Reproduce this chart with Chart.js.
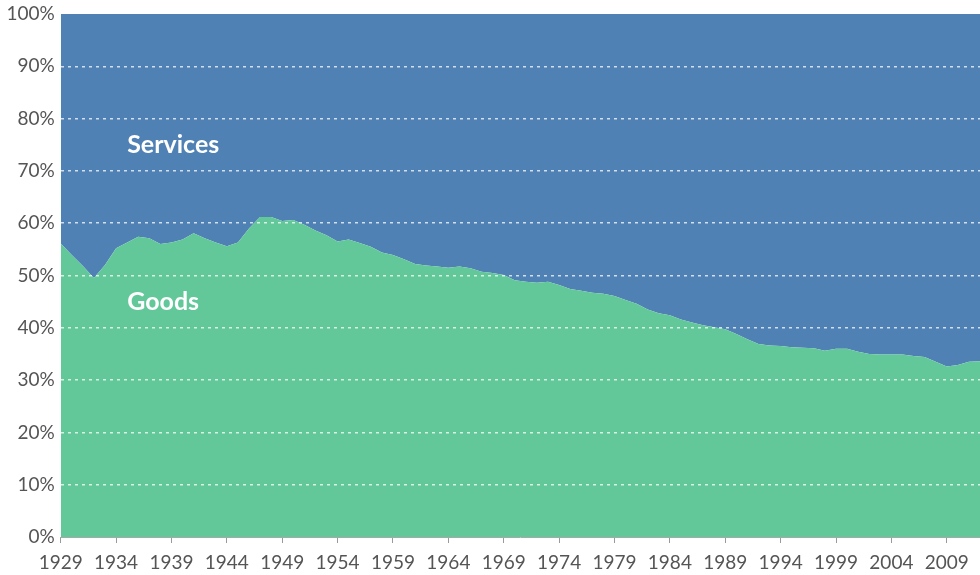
<!DOCTYPE html>
<html>
<head>
<meta charset="utf-8">
<script src="https://cdn.jsdelivr.net/npm/chart.js@4"></script>
<style>
html,body{margin:0;padding:0;background:#fff;}
#wrap{width:980px;height:575px;position:relative;}
</style>
</head>
<body>
<div id="wrap"><canvas id="c" width="980" height="575"></canvas></div>
<script>
const years = ['1929','1930','1931','1932','1933','1934','1935','1936','1937','1938',
'1939','1940','1941','1942','1943','1944','1945','1946','1947','1948',
'1949','1950','1951','1952','1953','1954','1955','1956','1957','1958',
'1959','1960','1961','1962','1963','1964','1965','1966','1967','1968',
'1969','1970','1971','1972','1973','1974','1975','1976','1977','1978',
'1979','1980','1981','1982','1983','1984','1985','1986','1987','1988',
'1989','1990','1991','1992','1993','1994','1995','1996','1997','1998',
'1999','2000','2001','2002','2003','2004','2005','2006','2007','2008',
'2009','2010','2011','2012'];

const tickYears = ['1929','1934','1939','1944','1949','1954','1959','1964','1969','1974','1979','1984','1989','1994','1999','2004','2009'];

const goods = [56.1,53.9,51.8,49.5,52.0,55.2,56.3,57.4,57.1,56.0,
56.3,56.9,58.1,57.1,56.3,55.6,56.3,59.0,61.2,61.2,
60.4,60.6,59.7,58.6,57.7,56.5,56.9,56.2,55.5,54.4,
53.9,53.1,52.2,51.9,51.7,51.5,51.7,51.4,50.7,50.5,
50.1,49.1,48.8,48.6,48.8,48.2,47.4,47.1,46.7,46.5,
46.1,45.3,44.6,43.5,42.8,42.4,41.6,41.0,40.5,40.1,
39.7,38.8,37.8,36.9,36.6,36.5,36.3,36.2,36.1,35.6,
36.0,36.0,35.4,35.0,34.9,34.9,34.9,34.6,34.4,33.5,
32.6,32.9,33.5,33.6];

const services = [43.9,46.1,48.2,50.5,48.0,44.8,43.7,42.6,42.9,44.0,
43.7,43.1,41.9,42.9,43.7,44.4,43.7,41.0,38.8,38.8,
39.6,39.4,40.3,41.4,42.3,43.5,43.1,43.8,44.5,45.6,
46.1,46.9,47.8,48.1,48.3,48.5,48.3,48.6,49.3,49.5,
49.9,50.9,51.2,51.4,51.2,51.8,52.6,52.9,53.3,53.5,
53.9,54.7,55.4,56.5,57.2,57.6,58.4,59.0,59.5,59.9,
60.3,61.2,62.2,63.1,63.4,63.5,63.7,63.8,63.9,64.4,
64.0,64.0,64.6,65.0,65.1,65.1,65.1,65.4,65.6,66.5,
67.4,67.1,66.5,66.4];

const yTicks = [0,10,20,30,40,50,60,70,80,90,100];

const seriesLabels = [
  {text:'Services', year:'1935', value:75},
  {text:'Goods', year:'1935', value:45}
];

const GREEN = 'rgb(99,200,153)';
const BLUE = 'rgb(79,129,181)';
const TICK_COLOR = '#555555';

const labelPlugin = {
  id: 'seriesLabels',
  afterDraw(chart) {
    const ctx = chart.ctx;
    const xs = chart.scales.x, ys = chart.scales.y;
    ctx.save();
    ctx.fillStyle = '#ffffff';
    ctx.font = 'bold 25px Lato';
    ctx.textAlign = 'left';
    ctx.textBaseline = 'middle';
    seriesLabels.forEach(l => {
      const x = xs.getPixelForValue(years.indexOf(l.year));
      const y = ys.getPixelForValue(l.value);
      ctx.fillText(l.text, x, y);
    });
    ctx.restore();
  }
};

new Chart(document.getElementById('c'), {
  type: 'line',
  data: {
    labels: years,
    datasets: [
      {label:'Goods', data: goods, fill:'origin', backgroundColor: GREEN, borderWidth:0, pointRadius:0, tension:0},
      {label:'Services', data: services, fill:'-1', backgroundColor: BLUE, borderWidth:0, pointRadius:0, tension:0}
    ]
  },
  options: {
    responsive:false,
    animation:false,
    layout:{padding:{top:14,right:0,left:0,bottom:0}},
    plugins:{legend:{display:false}, tooltip:{enabled:false}},
    scales:{
      x:{
        z:1,
        offset:false,
        afterFit: s => { s.height = 38; s.paddingLeft = 0; s.paddingRight = 0; },
        grid:{
          z:1,
          drawOnChartArea:false,
          drawTicks:true,
          tickLength:6,
          color: c => (c.tick && tickYears.includes(years[c.index])) ? '#9a9a9a' : 'rgba(0,0,0,0)'
        },
        border:{display:true, color:'#a8a8a8', width:1, z:1},
        ticks:{
          autoSkip:false, maxRotation:0, minRotation:0,
          padding:8,
          color: TICK_COLOR,
          font:{family:'Lato', size:19},
          callback:(v,i) => tickYears.includes(years[i]) ? years[i] : ''
        }
      },
      y:{
        z:1,
        stacked:true,
        min:0, max:100,
        afterFit: s => { s.width = 60.7; s.paddingTop = 0; s.paddingBottom = 0; },
        afterBuildTicks: s => { s.ticks = yTicks.map(v => ({value:v})); },
        grid:{
          z:1,
          drawTicks:false,
          color: c => (c.tick && c.tick.value > 0 && c.tick.value < 100) ? 'rgba(255,255,255,0.75)' : 'rgba(0,0,0,0)',
          lineWidth:1.5
        },
        border:{display:false, dash:[3,4]},
        ticks:{
          padding:6,
          color: TICK_COLOR,
          font:{family:'Lato', size:19},
          callback: v => v + '%'
        }
      }
    }
  },
  plugins:[labelPlugin]
});
</script>
</body>
</html>
